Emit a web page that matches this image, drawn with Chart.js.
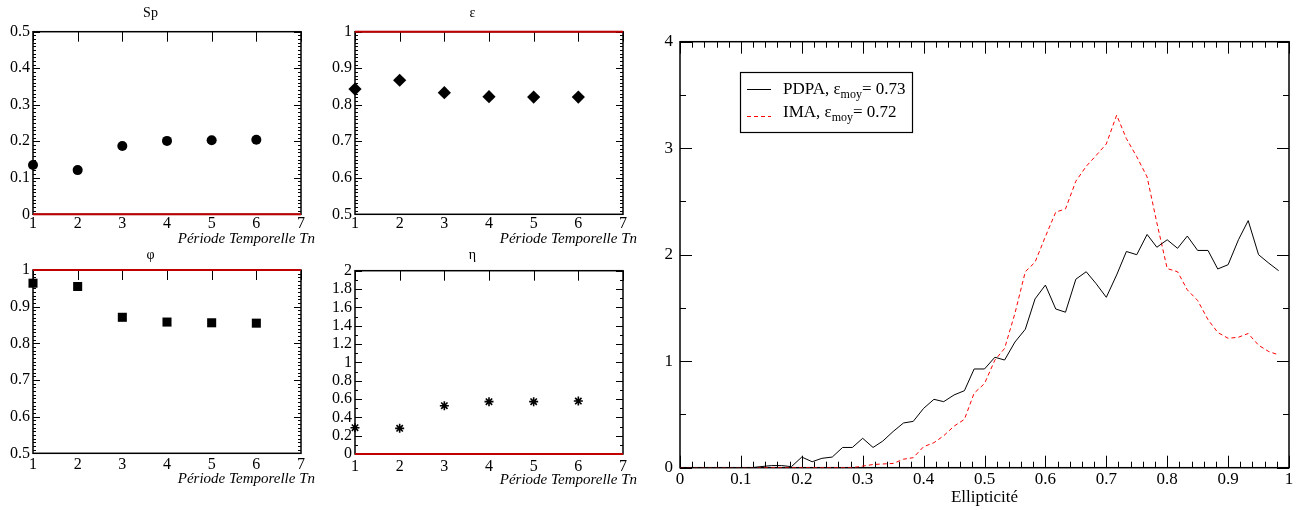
<!DOCTYPE html>
<html>
<head>
<meta charset="utf-8">
<script src="https://cdn.jsdelivr.net/npm/chart.js@4.4.0/dist/chart.umd.min.js"></script>
<style>
    body { margin: 0; background: #fff; width: 1305px; height: 510px; position: relative; overflow: hidden; }
    canvas { position: absolute; }
</style>
</head>
<body>
<canvas id="chartSp" width="340" height="250" style="left:0;top:0"></canvas>
<canvas id="chartEps" width="340" height="250" style="left:322px;top:0"></canvas>
<canvas id="chartPhi" width="340" height="274" style="left:0;top:236px"></canvas>
<canvas id="chartEta" width="340" height="274" style="left:322px;top:236px"></canvas>
<canvas id="chartEllip" width="665" height="510" style="left:640px;top:0"></canvas>
<script>
// Périodes temporelles
const periods = [1, 2, 3, 4, 5, 6];
const periodTicks = [1, 7];
const periodLabel = 'Période Temporelle Tn';
const spValues = [0.135, 0.121, 0.187, 0.201, 0.203, 0.204];
const epsValues = [0.843, 0.867, 0.833, 0.822, 0.821, 0.821];
const phiValues = [0.964, 0.955, 0.871, 0.858, 0.856, 0.855];
const etaValues = [0.287, 0.280, 0.527, 0.571, 0.571, 0.578];

// Distribution d'ellipticité
const ellipX = [0, 0.017, 0.033, 0.05, 0.067, 0.083, 0.1, 0.117, 0.133, 0.15,
    0.167, 0.183, 0.2, 0.217, 0.233, 0.25, 0.267, 0.283, 0.3, 0.317,
    0.333, 0.35, 0.367, 0.383, 0.4, 0.417, 0.433, 0.45, 0.467, 0.483,
    0.5, 0.517, 0.533, 0.55, 0.567, 0.583, 0.6, 0.617, 0.633, 0.65,
    0.667, 0.683, 0.7, 0.717, 0.733, 0.75, 0.767, 0.783, 0.8, 0.817,
    0.833, 0.85, 0.867, 0.883, 0.9, 0.917, 0.933, 0.95, 0.967, 0.983];
const pdpaValues = [0, 0, 0, 0, 0, 0, 0, 0, 0.01, 0.02,
    0.02, 0.01, 0.10, 0.056, 0.088, 0.10, 0.19, 0.19, 0.276, 0.19,
    0.25, 0.34, 0.42, 0.435, 0.557, 0.642, 0.62, 0.683, 0.723, 0.927,
    0.927, 1.037, 1.011, 1.18, 1.30, 1.585, 1.715, 1.49, 1.46, 1.77,
    1.84, 1.73, 1.60, 1.81, 2.03, 2.00, 2.19, 2.07, 2.14, 2.06,
    2.175, 2.04, 2.04, 1.866, 1.906, 2.14, 2.32, 2.00, 1.92, 1.85];
const imaValues = [0, 0, 0, 0, 0, 0, 0, 0, 0, 0,
    0, 0, 0, 0, 0, 0, 0, 0, 0.015, 0.03,
    0.035, 0.04, 0.08, 0.094, 0.197, 0.235, 0.30, 0.39, 0.454, 0.70,
    0.79, 1.01, 1.12, 1.45, 1.84, 1.93, 2.17, 2.40, 2.43, 2.69,
    2.83, 2.93, 3.04, 3.31, 3.09, 2.92, 2.73, 2.30, 1.87, 1.84,
    1.67, 1.57, 1.39, 1.27, 1.215, 1.225, 1.26, 1.15, 1.09, 1.06];
const legendNames = ['PDPA', 'IMA'];
const legendMeans = ['0.73', '0.72'];

const serif = '"Liberation Serif", "DejaVu Serif", serif';
const fmt = v => String(+v.toFixed(2));

// Cadre + graduations vers l'intérieur
const frameTicks = {
    id: 'frameTicks',
    beforeDatasetsDraw(chart, args, opts) {
        const { ctx, chartArea: a, scales } = chart;
        ctx.save();
        ctx.strokeStyle = '#000';
        ctx.lineWidth = opts.frameWidth;
        ctx.strokeRect(a.left, a.top, a.right - a.left, a.bottom - a.top);
        ctx.lineWidth = 1;
        ctx.beginPath();
        opts.marks.forEach(m => {
            const scale = scales[m.axis];
            const n = Math.round((scale.max - scale.min) / m.step);
            for (let i = 0; i <= n; i++) {
                const p = Math.round(scale.getPixelForValue(scale.min + i * m.step)) + 0.5;
                m.sides.forEach(side => {
                    if (side === 'top') { ctx.moveTo(p, a.top); ctx.lineTo(p, a.top + m.len); }
                    if (side === 'bottom') { ctx.moveTo(p, a.bottom); ctx.lineTo(p, a.bottom - m.len); }
                    if (side === 'left') { ctx.moveTo(a.left, p); ctx.lineTo(a.left + m.len, p); }
                    if (side === 'right') { ctx.moveTo(a.right, p); ctx.lineTo(a.right - m.len, p); }
                });
            }
        });
        ctx.stroke();
        ctx.restore();
    }
};

// Titre d'axe x aligné à droite, qui déborde un peu du cadre
const periodTitle = {
    id: 'periodTitle',
    afterDraw(chart, args, opts) {
        const { ctx, chartArea: a } = chart;
        ctx.save();
        ctx.font = 'italic 15px ' + serif;
        ctx.fillStyle = '#000';
        ctx.textAlign = 'right';
        ctx.textBaseline = 'middle';
        ctx.fillText(opts.text, a.right + opts.dx, a.bottom + opts.dy);
        ctx.restore();
    }
};

// Petits graphiques : valeur par période
function smallChart(id, title, values, marker, radius, yMin, yMax, yStep, yMinor, refValue, lay) {
    const ctx = document.getElementById(id).getContext('2d');
    return new Chart(ctx, {
        type: 'scatter',
        data: {
            datasets: [{
                data: periodTicks.map(p => ({ x: p, y: refValue })),
                showLine: true,
                borderColor: '#c00000',
                borderWidth: 2,
                pointRadius: 0,
                clip: false
            }, {
                data: periods.map((p, i) => ({ x: p, y: values[i] })),
                pointStyle: marker,
                pointRadius: radius,
                backgroundColor: '#000',
                borderColor: '#000',
                borderWidth: marker === 'star' ? 1.6 : 0,
                clip: false
            }]
        },
        options: {
            responsive: false,
            animation: false,
            layout: { padding: { left: 0, right: 39, bottom: 0, top: 0 } },
            plugins: {
                legend: { display: false },
                tooltip: { enabled: false },
                title: {
                    display: true, text: title, color: '#000',
                    font: { family: serif, size: 14, weight: 'normal' },
                    padding: lay.titlePad
                },
                periodTitle: { text: periodLabel, dx: 14, dy: lay.titleDy },
                frameTicks: {
                    frameWidth: 1.5,
                    marks: [
                        { axis: 'x', step: 1, len: 10, sides: ['top'] },
                        { axis: 'y', step: yStep, len: 7, sides: ['left', 'right'] },
                        { axis: 'y', step: yMinor, len: 3, sides: ['left', 'right'] }
                    ]
                }
            },
            scales: {
                x: {
                    type: 'linear', min: 1, max: 7,
                    afterFit: s => { s.height = lay.xHeight; },
                    grid: { display: false, drawTicks: false }, border: { display: false },
                    ticks: { stepSize: 1, color: '#000', padding: lay.xTickPad, maxRotation: 0, autoSkip: false,
                        font: { family: serif, size: 16 } }
                },
                y: {
                    min: yMin, max: yMax,
                    afterFit: s => { s.width = 33; },
                    grid: { display: false, drawTicks: false }, border: { display: false },
                    ticks: { stepSize: yStep, color: '#000', padding: 3, callback: fmt, autoSkip: false,
                        font: { family: serif, size: 16 } }
                }
            }
        },
        plugins: [frameTicks, periodTitle]
    });
}

const layTop = { titlePad: { top: 4.6, bottom: 10.3 }, xHeight: 35.7, xTickPad: 0, titleDy: 24.7 };
const layC = { titlePad: { top: 10.8, bottom: 6.4 }, xHeight: 56.7, xTickPad: 2.1, titleDy: 26 };
const layD = { titlePad: { top: 11.1, bottom: 6.8 }, xHeight: 56, xTickPad: 3, titleDy: 26 };

smallChart('chartSp', 'Sp', spValues, 'circle', 5, 0, 0.5, 0.1, 0.01, 0, layTop);
smallChart('chartEps', 'ε', epsValues, 'rectRot', 6.6, 0.5, 1, 0.1, 0.01, 1, layTop);
smallChart('chartPhi', 'φ', phiValues, 'rect', 6.4, 0.5, 1, 0.1, 0.01, 1, layC);
smallChart('chartEta', 'η', etaValues, 'star', 4.5, 0, 2, 0.2, 0.1, 0, layD);

// Légende avec indice "moy"
const subLegend = {
    id: 'subLegend',
    afterDraw(chart) {
        const ctx = chart.ctx;
        const box = { x: 100.5, y: 72.5, w: 172, h: 60 };
        ctx.save();
        ctx.fillStyle = '#fff';
        ctx.fillRect(box.x, box.y, box.w, box.h);
        ctx.strokeStyle = '#000';
        ctx.lineWidth = 1.2;
        ctx.strokeRect(box.x, box.y, box.w, box.h);
        chart.data.datasets.forEach((ds, i) => {
            const base = 94 + i * 23;
            const lineY = 89.5 + i * 27;
            ctx.strokeStyle = ds.borderColor;
            ctx.lineWidth = 1;
            ctx.setLineDash(ds.borderDash || []);
            ctx.beginPath();
            ctx.moveTo(107, lineY);
            ctx.lineTo(131, lineY);
            ctx.stroke();
            ctx.setLineDash([]);
            ctx.fillStyle = '#000';
            ctx.textBaseline = 'alphabetic';
            let x = 143;
            ctx.font = '17px ' + serif;
            const t1 = legendNames[i] + ', ε';
            ctx.fillText(t1, x, base);
            x += ctx.measureText(t1).width;
            ctx.font = '12px ' + serif;
            ctx.fillText('moy', x, base + 4);
            x += ctx.measureText('moy').width;
            ctx.font = '17px ' + serif;
            ctx.fillText('= ' + legendMeans[i], x, base);
        });
        ctx.restore();
    }
};

new Chart(document.getElementById('chartEllip').getContext('2d'), {
    type: 'scatter',
    data: {
        datasets: [{
            label: 'PDPA',
            data: ellipX.map((x, i) => ({ x: x, y: pdpaValues[i] })),
            showLine: true,
            borderColor: '#000',
            borderWidth: 1,
            pointRadius: 0
        }, {
            label: 'IMA',
            data: ellipX.map((x, i) => ({ x: x, y: imaValues[i] })),
            showLine: true,
            borderColor: '#ff0000',
            borderWidth: 1,
            borderDash: [4, 3],
            pointRadius: 0
        }]
    },
    options: {
        responsive: false,
        animation: false,
        layout: { padding: { left: 0, right: 16, top: 41.7, bottom: 0 } },
        plugins: {
            legend: { display: false },
            tooltip: { enabled: false },
            frameTicks: {
                frameWidth: 1.5,
                marks: [
                    { axis: 'x', step: 0.1, len: 12, sides: ['top', 'bottom'] },
                    { axis: 'x', step: 0.02, len: 6, sides: ['top', 'bottom'] },
                    { axis: 'y', step: 1, len: 12, sides: ['left', 'right'] },
                    { axis: 'y', step: 0.5, len: 6, sides: ['left', 'right'] }
                ]
            }
        },
        scales: {
            x: {
                type: 'linear', min: 0, max: 1,
                afterFit: s => { s.height = 42.3; },
                grid: { display: false, drawTicks: false }, border: { display: false },
                ticks: { stepSize: 0.1, color: '#000', padding: 2, maxRotation: 0, autoSkip: false, callback: fmt,
                    font: { family: serif, size: 17 } },
                title: {
                    display: true, text: 'Ellipticité', color: '#000',
                    font: { family: serif, size: 17 },
                    padding: { top: 0, bottom: 1.8 }
                }
            },
            y: {
                min: 0, max: 4,
                afterFit: s => { s.width = 40; },
                grid: { display: false, drawTicks: false }, border: { display: false },
                ticks: { stepSize: 1, color: '#000', padding: 7, callback: fmt,
                    font: { family: serif, size: 17 } }
            }
        }
    },
    plugins: [frameTicks, subLegend]
});
</script>
</body>
</html>
